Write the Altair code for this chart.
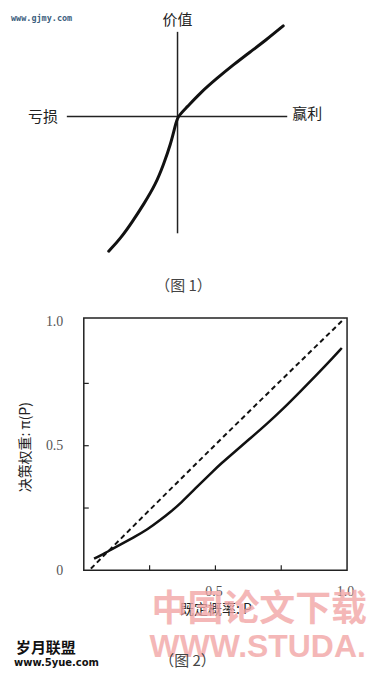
import altair as alt
import pandas as pd

# ---------------- Figure 1: value function (arbitrary units, origin at 0,0) ----------------
value_x = [-0.69, -0.57, -0.45, -0.34, -0.22, -0.14, -0.07, -0.02, 0.0,
           0.09, 0.23, 0.39, 0.56, 0.73, 0.89, 1.06]
value_y = [-1.35, -1.22, -1.05, -0.88, -0.68, -0.48, -0.28, -0.08, 0.0,
           0.09, 0.24, 0.38, 0.52, 0.65, 0.77, 0.91]
h_axis_x = [-1.11, 1.10]
v_axis_y = [-1.17, 0.85]

# ---------------- Figure 2: decision weights ----------------
prob = [0.039, 0.064, 0.102, 0.140, 0.191, 0.241, 0.292, 0.330, 0.367, 0.431,
        0.494, 0.519, 0.569, 0.633, 0.696, 0.759, 0.822, 0.885, 0.948, 0.980]
weight = [0.047, 0.060, 0.082, 0.104, 0.133, 0.163, 0.203, 0.235, 0.268, 0.336,
          0.401, 0.426, 0.472, 0.530, 0.588, 0.650, 0.717, 0.785, 0.855, 0.892]
diag_p = [0.027, 0.52, 0.99]
diag_w = [0.007, 0.525, 1.01]
y_tick_vals = [0.25, 0.5, 0.75]
x_tick_vals = [0.25, 0.5, 0.75]
y_label_vals = [0, 0.5, 1.0]
x_label_vals = [0.5, 1.0]

CJK = "Noto Sans CJK SC"
SERIF = "Liberation Serif"


def label(text, x, y, size=15, color="#222", font=CJK, weight="normal",
          align="center", opacity=1.0, baseline="middle"):
    return alt.Chart(pd.DataFrame({"t": [text]})).mark_text(
        font=font, fontSize=size, color=color, fontWeight=weight,
        align=align, baseline=baseline, opacity=opacity
    ).encode(text="t:N", x=alt.value(x), y=alt.value(y))


# ---- top panel ----
xs1 = alt.Scale(domain=[-0.94, 1.70], nice=False, zero=False)
ys1 = alt.Scale(domain=[-1.85, 1.07], nice=False, zero=False)

df_v = pd.DataFrame({"x": value_x, "y": value_y, "o": list(range(len(value_x)))})
curve1 = alt.Chart(df_v).mark_line(color="#111", strokeWidth=3, strokeCap="round",
                                   interpolate="basis").encode(
    x=alt.X("x:Q", scale=xs1, axis=None),
    y=alt.Y("y:Q", scale=ys1, axis=None),
    order="o:Q",
)
hax = alt.Chart(pd.DataFrame({"x": h_axis_x, "y": [0, 0]})).mark_line(
    color="#222", strokeWidth=1.5).encode(
    x=alt.X("x:Q", scale=xs1, axis=None), y=alt.Y("y:Q", scale=ys1, axis=None))
vax = alt.Chart(pd.DataFrame({"x": [0, 0], "y": v_axis_y})).mark_line(
    color="#222", strokeWidth=1.5).encode(
    x=alt.X("x:Q", scale=xs1, axis=None), y=alt.Y("y:Q", scale=ys1, axis=None))

top = alt.layer(
    hax, vax, curve1,
    label("价值", 94, 10),
    label("亏损", -41, 107),
    label("赢利", 224, 104),
    label("（图 1）", 100, 277, size=15, color="#444"),
    label("www.gjmy.com", -73, 8, size=8.5, color="#3d5f80",
          font="DejaVu Sans Mono", weight="bold", align="left"),
).properties(width=264, height=292, view=alt.ViewBackground(stroke="transparent"))

# ---- bottom panel ----
xs2 = alt.Scale(domain=[0, 1], nice=False, zero=False)
ys2 = alt.Scale(domain=[0, 1.012], nice=False, zero=False)

yaxis = alt.Axis(
    values=y_label_vals, ticks=False, domain=False, grid=False,
    labelPadding=21, labelFlush=False,
    labelExpr="datum.value == 0 ? '0' : format(datum.value, '.1f')",
    labelFont=SERIF, labelFontSize=14, labelColor="#555",
    title="决策权重: π(P)", titleFont=CJK, titleFontSize=14, titleFontWeight="normal",
    titleColor="#222", titleX=-58, titleY=129, titleAngle=270,
    titleAlign="center", titleBaseline="middle",
)
xaxis = alt.Axis(
    values=x_label_vals, ticks=False, domain=False, grid=False,
    labelPadding=14, labelFlush=False, format=".1f", labelOffset=-2,
    labelFont=SERIF, labelFontSize=14, labelColor="#555",
    title="既定概率: P", titleFont=CJK, titleFontSize=14, titleFontWeight="normal",
    titleColor="#222", titleX=132, titleY=39, titleAlign="center", titleBaseline="middle",
)

df_w = pd.DataFrame({"p": prob, "w": weight})
solid = alt.Chart(df_w).mark_line(color="#111", strokeWidth=2.5, interpolate="basis").encode(
    x=alt.X("p:Q", scale=xs2, axis=xaxis), y=alt.Y("w:Q", scale=ys2, axis=yaxis))
df_d = pd.DataFrame({"p": diag_p, "w": diag_w})
dashed = alt.Chart(df_d).mark_line(color="#111", strokeWidth=2, strokeDash=[5, 3.5],
                                   interpolate="monotone").encode(
    x=alt.X("p:Q", scale=xs2, axis=xaxis), y=alt.Y("w:Q", scale=ys2, axis=yaxis))

ytk = alt.Chart(pd.DataFrame({"v": y_tick_vals})).mark_rule(color="#222", strokeWidth=1.2).encode(
    y=alt.Y("v:Q", scale=ys2, axis=yaxis), x=alt.value(0), x2=alt.value(5))
xtk = alt.Chart(pd.DataFrame({"v": x_tick_vals})).mark_rule(color="#222", strokeWidth=1.2).encode(
    x=alt.X("v:Q", scale=xs2, axis=xaxis), y=alt.value(253), y2=alt.value(248))

bottom = alt.layer(
    label("中国论文下载", 68, 293, size=36, color="#f2a6a6", weight="bold",
          align="left", opacity=0.8),
    label("WWW.STUDA.", 66, 330, size=32, color="#f2a6a6", font="Liberation Sans",
          weight="bold", align="left", opacity=0.8),
    solid, dashed, ytk, xtk,
    label("岁月联盟", -68, 331, size=15, color="#111", weight="bold", align="left"),
    label("www.5yue.com", -70, 346, size=10, color="#111", font="DejaVu Sans",
          weight="bold", align="left"),
    label("（图 2）", 104, 344, size=15, color="#444"),
).properties(width=264, height=253)

chart = alt.vconcat(top, bottom, spacing=17, bounds="flush").properties(
    padding={"left": 2, "top": 0, "right": 0, "bottom": 0}
).configure_view(stroke="#222", strokeWidth=1.5)

chart.save("out.html", embed_options={"renderer": "svg", "actions": False})
